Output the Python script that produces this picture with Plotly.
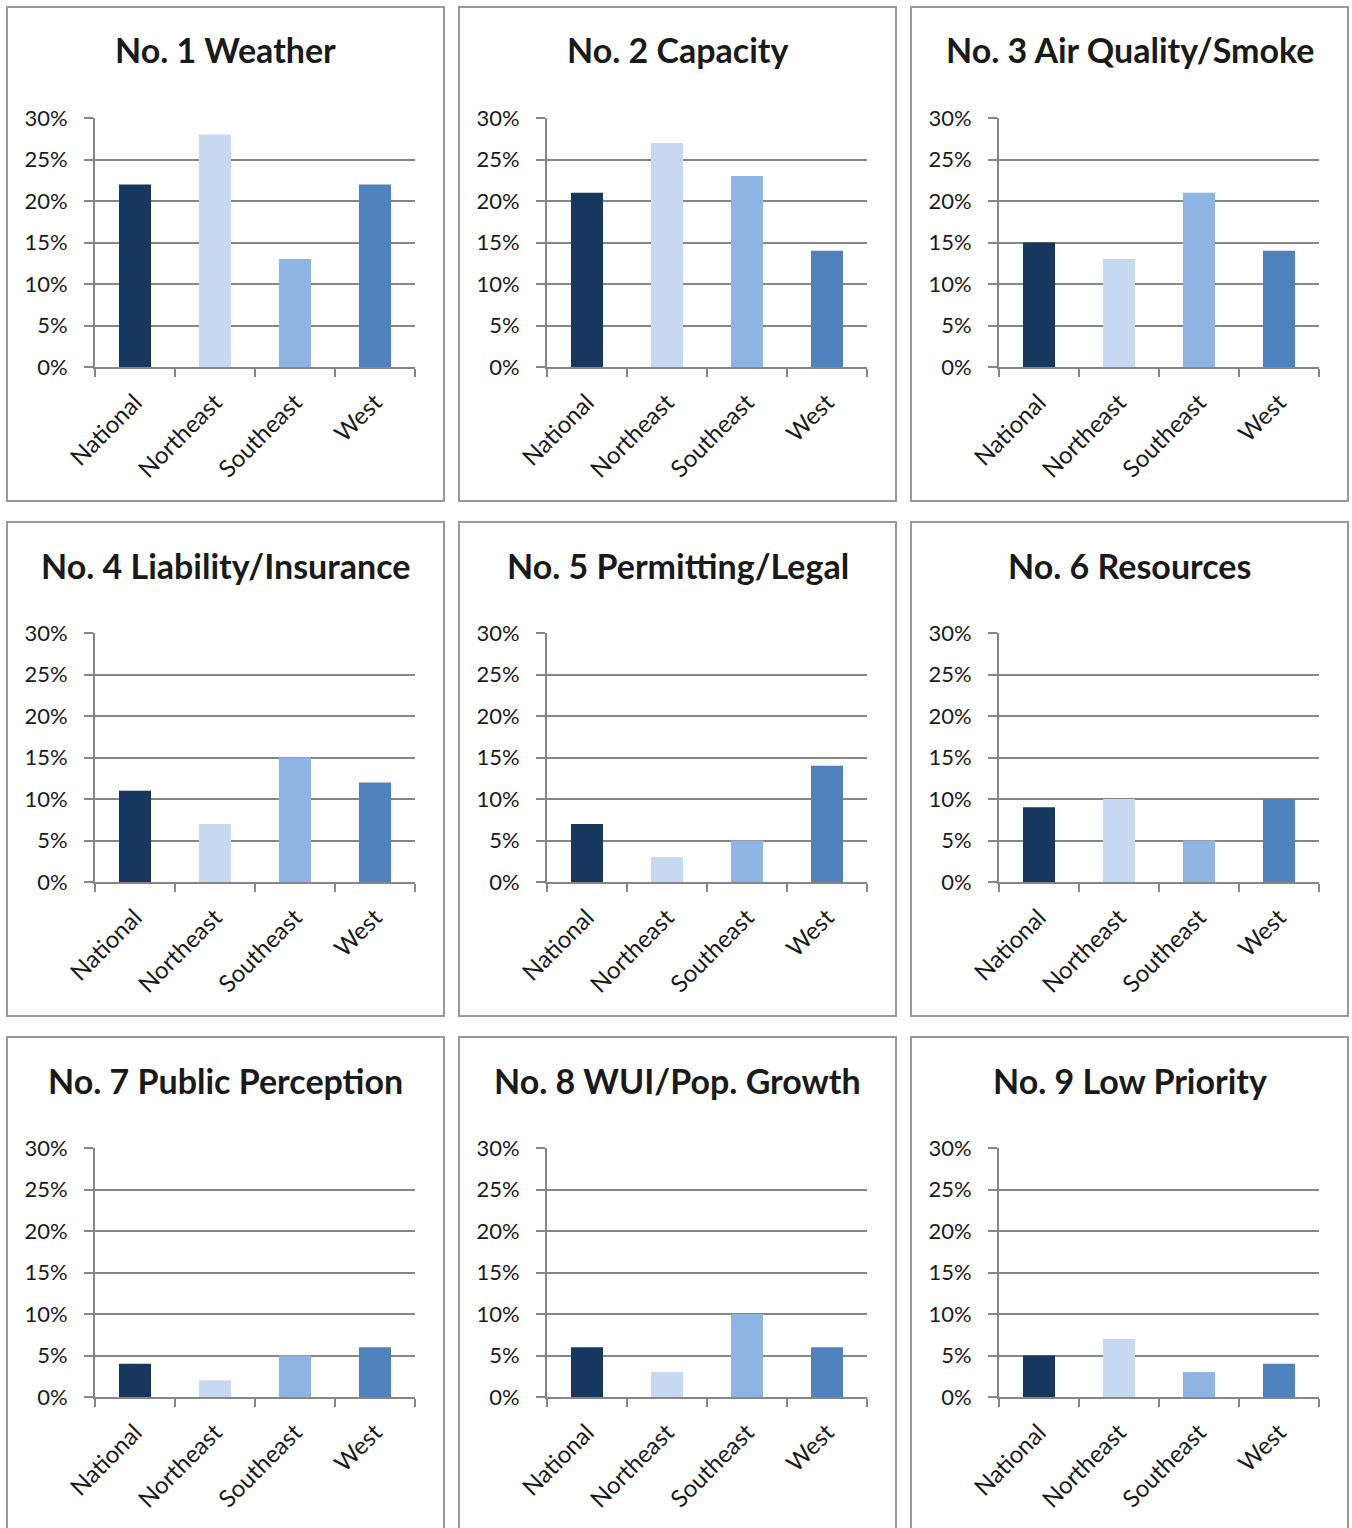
import plotly.graph_objects as go

regions = ["National", "Northeast", "Southeast", "West"]
bar_colors = ["#17375E", "#C6D9F1", "#8DB4E2", "#4F81BD"]

titles = [
    "No. 1 Weather",
    "No. 2 Capacity",
    "No. 3 Air Quality/Smoke",
    "No. 4 Liability/Insurance",
    "No. 5 Permitting/Legal",
    "No. 6 Resources",
    "No. 7 Public Perception",
    "No. 8 WUI/Pop. Growth",
    "No. 9 Low Priority",
]

weather = [22, 28, 13, 22]
capacity = [21, 27, 23, 14]
air_quality = [15, 13, 21, 14]
liability = [11, 7, 15, 12]
permitting = [7, 3, 5, 14]
resources = [9, 10, 5, 10]
public_perception = [4, 2, 5, 6]
wui_growth = [6, 3, 10, 6]
low_priority = [5, 7, 3, 4]

values = [weather, capacity, air_quality, liability, permitting,
          resources, public_perception, wui_growth, low_priority]

y_ticks = [0, 5, 10, 15, 20, 25, 30]

W, H = 1352, 1528
GRID = "#868686"
FONT = "Lato"

fig = go.Figure()
layout = {}
shapes = []
annotations = []

for i, (title, vals) in enumerate(zip(titles, values)):
    r, c = divmod(i, 3)
    n = i + 1
    xname = "x" if n == 1 else f"x{n}"
    yname = "y" if n == 1 else f"y{n}"
    fig.add_trace(go.Bar(
        x=regions, y=vals, marker_color=bar_colors, marker_line_width=0,
        width=0.4, xaxis=xname, yaxis=yname, showlegend=False,
        hovertemplate="%{x}: %{y}%<extra></extra>",
    ))
    px_left = 95 + 452 * c
    px_right = 415 + 452 * c
    py_top = 118 + 515 * r
    py_bot = 367 + 515 * r
    xdom = [px_left / W, px_right / W]
    ydom = [1 - py_bot / H, 1 - py_top / H]
    xkey = "xaxis" if n == 1 else f"xaxis{n}"
    ykey = "yaxis" if n == 1 else f"yaxis{n}"
    layout[xkey] = dict(
        domain=xdom, anchor=yname, type="category", automargin=False,
        showgrid=False, showline=True, linecolor=GRID, linewidth=2,
        ticks="outside", tickson="boundaries", ticklen=8, tickwidth=2,
        tickcolor=GRID, tickangle=-45, ticklabelstandoff=10,
        tickfont=dict(family=FONT, size=24, color="#1a1a1a"),
        fixedrange=True,
    )
    layout[ykey] = dict(
        domain=ydom, anchor=xname, range=[0, 30], automargin=False,
        tickvals=y_ticks, ticktext=[f"{t}%" for t in y_ticks],
        showgrid=True, gridcolor=GRID, gridwidth=2, zeroline=False,
        showline=True, linecolor=GRID, linewidth=2,
        ticks="outside", ticklen=9, tickwidth=2, tickcolor=GRID,
        ticklabelstandoff=12,
        tickfont=dict(family=FONT, size=22, color="#1a1a1a"),
        fixedrange=True,
    )
    # panel border
    bx0, bx1 = 7 + 452 * c, 444 + 452 * c
    by0, by1 = 7 + 515 * r, 501 + 515 * r
    if r == 2:
        by1 = 1540
    shapes.append(dict(
        type="rect", xref="paper", yref="paper",
        x0=bx0 / W, x1=bx1 / W, y0=1 - by1 / H, y1=1 - by0 / H,
        line=dict(color="#999999", width=2), fillcolor="rgba(0,0,0,0)",
        layer="below",
    ))
    annotations.append(dict(
        text=f"<b>{title}</b>", xref="paper", yref="paper",
        x=(225.5 + 452 * c) / W, y=1 - (50 + 515 * r) / H,
        xanchor="center", yanchor="middle", showarrow=False,
        font=dict(family=FONT, size=34, color="#1a1a1a"),
    ))

fig.update_layout(
    template="none",
    width=W, height=H,
    margin=dict(l=0, r=0, t=0, b=0, pad=0, autoexpand=False),
    paper_bgcolor="white", plot_bgcolor="white",
    shapes=shapes, annotations=annotations,
    bargap=0.6,
    **layout,
)

fig.write_html(
    "out.html",
    config={"displayModeBar": False},
    post_script="document.body.style.margin='0px';document.body.style.padding='0px';",
)
